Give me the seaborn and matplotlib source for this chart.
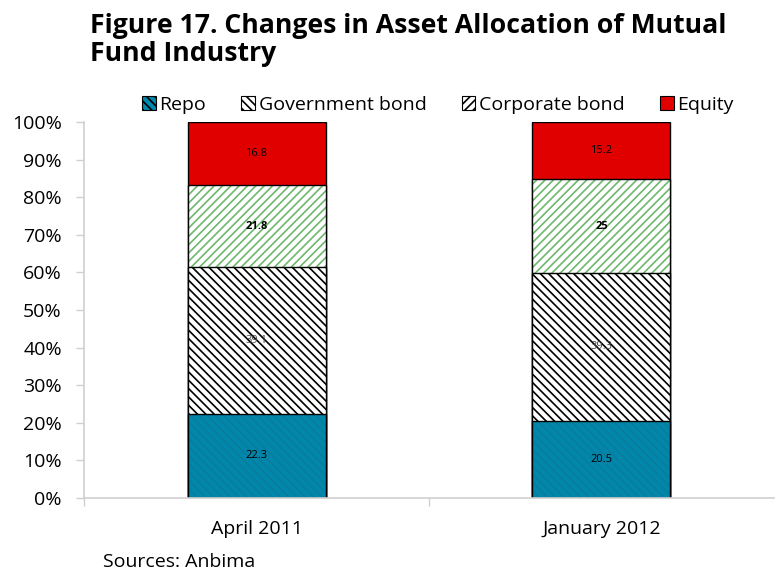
import matplotlib
matplotlib.use("Agg")
import matplotlib.pyplot as plt
import matplotlib.ticker as mticker
from matplotlib.patches import Patch
import seaborn as sns
import pandas as pd

# data (percent of total)
periods = ["April 2011", "January 2012"]
series = ["Repo", "Government bond", "Corporate bond", "Equity"]
repo = [22.3, 20.5]
gov_bond = [39.1, 39.3]
corp_bond = [21.8, 25.0]
equity = [16.8, 15.2]
yticks = [0, 10, 20, 30, 40, 50, 60, 70, 80, 90, 100]

sns.set_theme(style="white")
plt.rcParams["font.family"] = ["Open Sans", "DejaVu Sans"]
plt.rcParams["text.color"] = "black"
plt.rcParams["hatch.linewidth"] = 1.2

fig = plt.figure(figsize=(7.75, 5.71), dpi=100)
ax = fig.add_axes([0.1084, 0.128, 0.8903, 0.6585])

styles = {
    "Repo": dict(face="#0087AB", hatch="\\\\\\\\", hcol="#0A7C9C"),
    "Government bond": dict(face="white", hatch="\\\\\\\\", hcol="black"),
    "Corporate bond": dict(face="white", hatch="////", hcol="#6DB86A"),
    "Equity": dict(face="#E00000", hatch="", hcol="#E00000"),
}

df = pd.DataFrame({"period": periods, "Repo": repo, "Government bond": gov_bond,
                   "Corporate bond": corp_bond, "Equity": equity})
cum = df[series].cumsum(axis=1)

# draw tallest (cumulative) first so lower layers sit on top
for name in reversed(series):
    st = styles[name]
    n_before = len(ax.patches)
    sns.barplot(data=cum, x=df["period"], y=name, color=st["face"], width=0.4,
                saturation=1, ax=ax, linewidth=0)
    for p in ax.patches[n_before:]:
        p.set_hatch(st["hatch"])
        p.set_edgecolor(st["hcol"])
        p.set_linewidth(0)
    # outline
    sns.barplot(data=cum, x=df["period"], y=name, fill=False, width=0.4,
                edgecolor="black", linewidth=1.0, ax=ax)

# value labels
label_style = {
    "Repo": dict(color="black", weight="normal"),
    "Government bond": dict(color="#444444", weight="normal"),
    "Corporate bond": dict(color="black", weight="bold"),
    "Equity": dict(color="black", weight="normal"),
}
for i, per in enumerate(periods):
    base = 0
    for name in series:
        v = df.loc[i, name]
        ax.text(i, base + v / 2, f"{v:g}", ha="center", va="center", fontsize=8,
                **label_style[name])
        base += v

ax.set_xlim(-0.5, 1.5)
ax.set_ylim(0, 100)
ax.set_yticks(yticks)
ax.yaxis.set_major_formatter(mticker.FuncFormatter(lambda v, p: f"{v:.0f}%"))
ax.set_xlabel("")
ax.set_ylabel("")
ax.tick_params(axis="y", which="both", left=True, length=6, width=1, color="#D0D0D0",
               labelsize=14, pad=10, labelcolor="black")
ax.set_xticks([0, 1])
ax.set_xticklabels(periods)
ax.set_xticks([-0.5, 0.5], minor=True)
ax.tick_params(axis="x", which="major", bottom=False, labelsize=14, pad=10,
               labelcolor="black")
ax.tick_params(axis="x", which="minor", bottom=True, length=6, width=1, color="#D0D0D0")
for s in ["top", "right"]:
    ax.spines[s].set_visible(False)
for s in ["left", "bottom"]:
    ax.spines[s].set_color("#D0D0D0")
    ax.spines[s].set_linewidth(1.2)
ax.grid(False)

handles = [Patch(facecolor=styles[n]["face"], edgecolor="black", hatch=styles[n]["hatch"],
                 linewidth=0.8, label=n) for n in series]
leg = ax.legend(handles=handles, loc="lower center", bbox_to_anchor=(0.513, 0.995),
                ncol=4, frameon=False, fontsize=14, handlelength=0.7,
                handleheight=0.7, handletextpad=0.2, columnspacing=1.8,
                borderaxespad=0.1)

fig.text(0.116, 0.93, "Figure 17. Changes in Asset Allocation of Mutual\nFund Industry",
         fontsize=19.2, fontweight="bold", ha="left", va="center", linespacing=1.12)
fig.text(0.133, 0.007, "Sources: Anbima", fontsize=14, ha="left", va="baseline")

fig.savefig("out.png", dpi=100)
